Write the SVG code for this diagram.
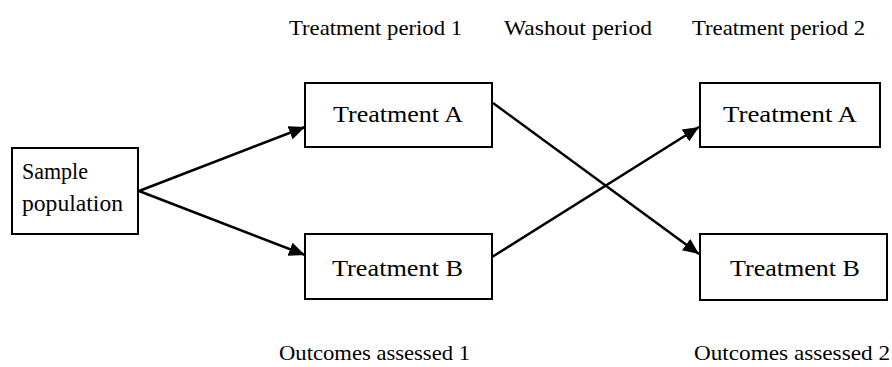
<svg xmlns="http://www.w3.org/2000/svg" width="892" height="367" viewBox="0 0 892 367">
<style>
.box{fill:#fff;stroke:#000;stroke-width:2}
.t{font-family:"Liberation Serif","Times New Roman",serif;fill:#000}
.bt{font-size:24px}
.lt{font-size:21px}
.edge{stroke:#000;stroke-width:2.5;fill:none;marker-end:url(#ah)}
</style>
<defs>
<marker id="ah" markerUnits="userSpaceOnUse" markerWidth="18" markerHeight="14" refX="16" refY="7" orient="auto">
<path d="M0,0 L16,7 L0,14 Z" fill="#000"/>
</marker>
</defs>
<rect width="892" height="367" fill="#fff"/>
<g id="labels">
<text class="t lt" x="289" y="35" textLength="173" lengthAdjust="spacingAndGlyphs">Treatment period 1</text>
<text class="t lt" x="504" y="35" textLength="148" lengthAdjust="spacingAndGlyphs">Washout period</text>
<text class="t lt" x="692" y="35" textLength="173" lengthAdjust="spacingAndGlyphs">Treatment period 2</text>
<text class="t lt" x="279" y="360" textLength="191" lengthAdjust="spacingAndGlyphs">Outcomes assessed 1</text>
<text class="t lt" x="694" y="360" textLength="196" lengthAdjust="spacingAndGlyphs">Outcomes assessed 2</text>
</g>
<g id="connectors">
<line class="edge" x1="139" y1="191" x2="305" y2="127"/>
<line class="edge" x1="139" y1="191" x2="305" y2="255"/>
<line class="edge" x1="493" y1="103" x2="699" y2="254"/>
<line class="edge" x1="492" y1="257" x2="699" y2="127"/>
</g>
<g id="sample">
<rect class="box" x="12" y="148" width="126" height="86"/>
<text class="t bt" x="22" y="179" textLength="66" lengthAdjust="spacingAndGlyphs" font-size="22">Sample</text>
<text class="t bt" x="22" y="211" textLength="101" lengthAdjust="spacingAndGlyphs" font-size="22">population</text>
</g>
<g id="treatA1">
<rect class="box" x="305" y="83" width="187" height="64"/>
<text class="t bt" x="333" y="122" textLength="130" lengthAdjust="spacingAndGlyphs">Treatment A</text>
</g>
<g id="treatB1">
<rect class="box" x="305" y="234" width="187" height="65"/>
<text class="t bt" x="332" y="276" textLength="131" lengthAdjust="spacingAndGlyphs">Treatment B</text>
</g>
<g id="treatA2">
<rect class="box" x="700" y="83" width="180" height="64"/>
<text class="t bt" x="723" y="122" textLength="134" lengthAdjust="spacingAndGlyphs">Treatment A</text>
</g>
<g id="treatB2">
<rect class="box" x="700" y="234" width="187" height="66"/>
<text class="t bt" x="730" y="276" textLength="130" lengthAdjust="spacingAndGlyphs">Treatment B</text>
</g>
</svg>
